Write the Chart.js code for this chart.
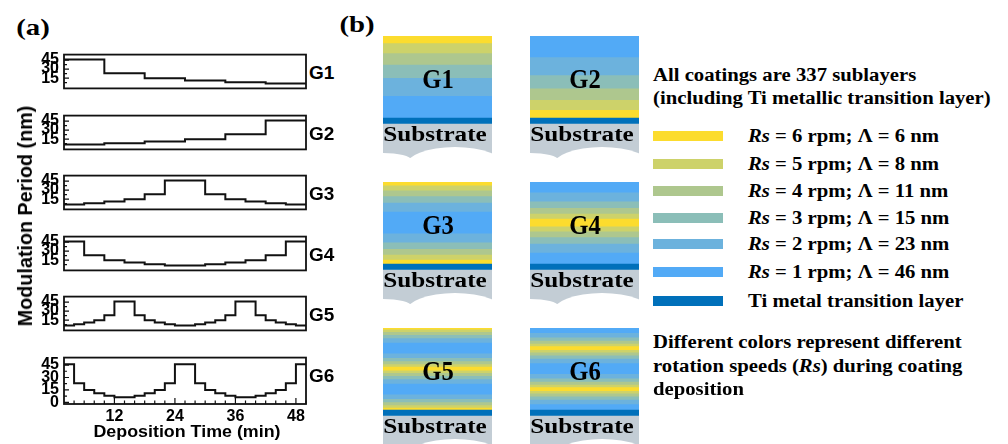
<!DOCTYPE html>
<html>
<head>
<meta charset="utf-8">
<script src="https://cdn.jsdelivr.net/npm/chart.js@4.4.1/dist/chart.umd.min.js"></script>
<style>
  html, body { margin: 0; padding: 0; background: #fff; }
  body { width: 1008px; height: 444px; position: relative; overflow: hidden; }
  canvas { position: absolute; }
  .t { position: absolute; white-space: nowrap; color: #000; }
  .sw { position: absolute; }
</style>
</head>
<body>
<script>
// ---- data ----
const coatings = ['G1', 'G2', 'G3', 'G4', 'G5', 'G6'];
const startTime = 2; // min, coating starts after the Ti layer

// modulation period of each step (nm) and its duration (min), in deposition order
const G1_periods = [46, 23, 15, 11, 8, 6];
const G1_minutes = [8, 8, 8, 8, 8, 8];
const G2_periods = [6, 8, 11, 15, 23, 46];
const G2_minutes = [8, 8, 8, 8, 8, 8];
const G3_periods = [6, 8, 11, 15, 23, 46, 23, 15, 11, 8, 6];
const G3_minutes = [4, 4, 4, 4, 4, 8, 4, 4, 4, 4, 4];
const G4_periods = [46, 23, 15, 11, 8, 6, 8, 11, 15, 23, 46];
const G4_minutes = [4, 4, 4, 4, 4, 8, 4, 4, 4, 4, 4];
const G5_periods = [6, 8, 11, 15, 23, 46, 23, 15, 11, 8, 6, 8, 11, 15, 23, 46, 23, 15, 11, 8, 6];
const G5_minutes = [2, 2, 2, 2, 2, 4, 2, 2, 2, 2, 4, 2, 2, 2, 2, 4, 2, 2, 2, 2, 2];
const G6_periods = [46, 23, 15, 11, 8, 6, 8, 11, 15, 23, 46, 23, 15, 11, 8, 6, 8, 11, 15, 23, 46];
const G6_minutes = [2, 2, 2, 2, 2, 4, 2, 2, 2, 2, 4, 2, 2, 2, 2, 4, 2, 2, 2, 2, 2];

const yTicks = [15, 30, 45];
const yTicksBottom = [0, 15, 30, 45];
const xTicks = [12, 24, 36, 48];

// rotation speed (rpm) and period (nm) of each sublayer type
const speeds = [6, 5, 4, 3, 2, 1];
const periods = [6, 8, 11, 15, 23, 46];
// relative layer growth per minute in the sketch
const growthPerMin = [0.95, 1.25, 1.45, 1.65, 2.25, 2.7];
const tiThickness = 6;
const substrateThickness = 34;

// ---- styles ----
const layerColors = ['#fcdc2e', '#cdd26a', '#aec78e', '#8bbeb8', '#6cb2dd', '#52aaf6'];
const tiColor = '#0070ba';
const substrateColor = '#c3cdd5';
const SANS = '"Liberation Sans", Arial, sans-serif';
const SERIF = '"Liberation Serif", "Times New Roman", serif';

const allPeriods = [G1_periods, G2_periods, G3_periods, G4_periods, G5_periods, G6_periods];
const allMinutes = [G1_minutes, G2_minutes, G3_minutes, G4_minutes, G5_minutes, G6_minutes];

Chart.defaults.font.family = SANS;
Chart.defaults.color = '#000';

function label(html, x, y, font, align, sx) {
  const d = document.createElement('div');
  d.className = 't';
  d.innerHTML = html;
  d.style.font = font;
  d.style.left = x + 'px';
  d.style.top = y + 'px';
  d.style.transformOrigin = align === 'center' ? 'center' : 'left center';
  d.style.transform = 'translate(' + (align === 'center' ? '-50%' : '0') + ', -50%) scaleX(' + (sx || 1) + ')';
  document.body.appendChild(d);
  return d;
}

function stepPoints(p, m) {
  const pts = [];
  let t = startTime;
  p.forEach((v, i) => { pts.push({ x: t, y: v }); t += m[i]; });
  pts.push({ x: t, y: p[p.length - 1] });
  return pts;
}

// box + inward tick marks
const framePlugin = {
  id: 'frame',
  afterDraw(chart, args, opts) {
    const { ctx, chartArea: a, scales } = chart;
    ctx.save();
    ctx.strokeStyle = '#111';
    ctx.lineWidth = 1.8;
    ctx.strokeRect(a.left, a.top, a.width, a.height);
    ctx.lineWidth = 1.2;
    ctx.beginPath();
    scales.y.ticks.forEach(t => {
      const y = scales.y.getPixelForValue(t.value);
      ctx.moveTo(a.left, y); ctx.lineTo(a.left + 5, y);
    });
    [7.5, 22.5, 37.5].forEach(v => {
      const y = scales.y.getPixelForValue(v);
      ctx.moveTo(a.left, y); ctx.lineTo(a.left + 3, y);
    });
    if (opts.xTicks) {
      for (let v = 4; v <= 50; v += 2) {
        const x = scales.x.getPixelForValue(v);
        const len = v % 12 === 0 ? 6 : 3.5;
        ctx.moveTo(x, a.bottom); ctx.lineTo(x, a.bottom - len);
      }
    }
    ctx.stroke();
    ctx.restore();
  }
};

// ---- panel (a): step plots ----
const panelTops = [42, 103, 163, 224, 284, 345];
const panelH = 59, plotLeft = 64, yAxisW = 44;
const tickFont = { family: SANS, size: 16, weight: 'bold' };

coatings.forEach((name, i) => {
  const last = i === coatings.length - 1;
  const padT = 2, padB = last ? 0 : 2, xAxisH = last ? 24 : 0;
  const cv = document.createElement('canvas');
  cv.width = 288;
  cv.height = padT + panelH + padB + xAxisH;
  cv.style.left = (plotLeft - yAxisW) + 'px';
  cv.style.top = (panelTops[i] - padT) + 'px';
  document.body.appendChild(cv);

  new Chart(cv, {
    type: 'line',
    data: {
      datasets: [{
        data: stepPoints(allPeriods[i], allMinutes[i]),
        stepped: true,
        borderColor: '#111',
        borderWidth: 2,
        pointRadius: 0,
        fill: false
      }]
    },
    options: {
      responsive: false,
      animation: false,
      events: [],
      layout: { padding: { top: padT, bottom: padB, left: 0, right: 2 } },
      plugins: { legend: { display: false }, tooltip: { enabled: false }, frame: { xTicks: last } },
      scales: {
        x: {
          type: 'linear', min: 2, max: 50, display: last,
          grid: { display: false, drawTicks: false }, border: { display: false },
          afterBuildTicks: s => { s.ticks = xTicks.map(v => ({ value: v })); },
          afterFit: s => { s.height = xAxisH; },
          ticks: { padding: 3, autoSkip: false, maxRotation: 0, font: tickFont }
        },
        y: {
          min: -2, max: 54,
          grid: { display: false, drawTicks: false }, border: { display: false },
          afterBuildTicks: s => { s.ticks = (last ? yTicksBottom : yTicks).map(v => ({ value: v })); },
          afterFit: s => { s.width = yAxisW; },
          ticks: { padding: 5, autoSkip: false, font: tickFont }
        }
      }
    },
    plugins: [framePlugin]
  });

  label(name, 309, panelTops[i] + 30, 'bold 19px/1 ' + SANS, 'left', 1);
});

label('(a)', 32.5, 27, 'bold 24px/1 ' + SERIF, 'center', 1.2);
label('Deposition Time (min)', 186.5, 430.5, 'bold 17px/1 ' + SANS, 'center', 1.05);
const yt = label('Modulation Period (nm)', 25, 215.5, 'bold 19px/1 ' + SANS, 'center', 1);
yt.style.transform = 'translate(-50%, -50%) rotate(-90deg) scaleX(1.04) scaleY(1.05)';

// ---- panel (b): coating sketches ----
const wavePlugin = {
  id: 'wave',
  afterDatasetsDraw(chart) {
    const { ctx, chartArea: a } = chart;
    ctx.save();
    ctx.fillStyle = '#fff';
    ctx.beginPath();
    ctx.ellipse(a.left + 72, a.bottom + 9, 50, 20, 0, 0, Math.PI * 2);
    ctx.fill();
    ctx.beginPath();
    ctx.ellipse(a.left, a.bottom + 2, 28, 7, 0, 0, Math.PI * 2);
    ctx.fill();
    ctx.restore();
  }
};

const colLefts = [383, 530], rowTops = [36, 182, 328], blockW = 109;

coatings.forEach((name, i) => {
  const left = colLefts[i % 2], top = rowTops[Math.floor(i / 2)];
  const layers = allPeriods[i].map((p, k) => {
    const j = periods.indexOf(p);
    return { data: [allMinutes[i][k] * growthPerMin[j]], backgroundColor: layerColors[j] };
  });
  const datasets = [
    { data: [substrateThickness], backgroundColor: substrateColor },
    { data: [tiThickness], backgroundColor: tiColor }
  ].concat(layers);
  const total = datasets.reduce((s, d) => s + d.data[0], 0);

  const cv = document.createElement('canvas');
  cv.width = blockW;
  cv.height = Math.round(total);
  cv.style.left = left + 'px';
  cv.style.top = top + 'px';
  cv.style.filter = 'blur(0.6px)';
  document.body.appendChild(cv);

  new Chart(cv, {
    type: 'bar',
    data: { labels: [name], datasets: datasets },
    options: {
      responsive: false,
      animation: false,
      events: [],
      datasets: { bar: { barPercentage: 1, categoryPercentage: 1, borderWidth: 0 } },
      layout: { padding: 0 },
      plugins: { legend: { display: false }, tooltip: { enabled: false } },
      scales: {
        x: { stacked: true, display: false },
        y: { stacked: true, display: false, min: 0, max: total }
      }
    },
    plugins: [wavePlugin]
  });

  label(name, left + 54.5, top + 43, 'bold 28px/1 ' + SERIF, 'center', 0.88);
  label('Substrate', left + 52, top + 98, 'bold 20px/1 ' + SERIF, 'center', 1.26);
});

label('(b)', 357, 24, 'bold 24px/1 ' + SERIF, 'center', 1.2);

// ---- legend / notes ----
const rFont = 'bold 18.5px/1 ' + SERIF;
label('All coatings are 337 sublayers', 653, 74.5, rFont, 'left', 1.12);
label('(including Ti metallic transition layer)', 653, 98, rFont, 'left', 1.12);

const legendY = [136, 163.5, 191, 217.5, 244, 271.5, 300.5];
const legendItems = speeds.map((s, k) => ({
  color: layerColors[k],
  text: '<i>Rs</i> = ' + s + ' rpm; \u039B = ' + periods[k] + ' nm'
}));
legendItems.push({ color: tiColor, text: 'Ti metal transition layer' });
legendItems.forEach((it, k) => {
  const sw = document.createElement('div');
  sw.className = 'sw';
  sw.style.left = '653px';
  sw.style.top = (legendY[k] - 5) + 'px';
  sw.style.width = '70px';
  sw.style.height = '10px';
  sw.style.background = it.color;
  document.body.appendChild(sw);
  label(it.text, 748, legendY[k], rFont, 'left', 1.12);
});

label('Different colors represent different', 653, 342, rFont, 'left', 1.12);
label('rotation speeds (<i>Rs</i>) during coating', 653, 366, rFont, 'left', 1.12);
label('deposition', 653, 389, rFont, 'left', 1.12);
</script>
</body>
</html>
